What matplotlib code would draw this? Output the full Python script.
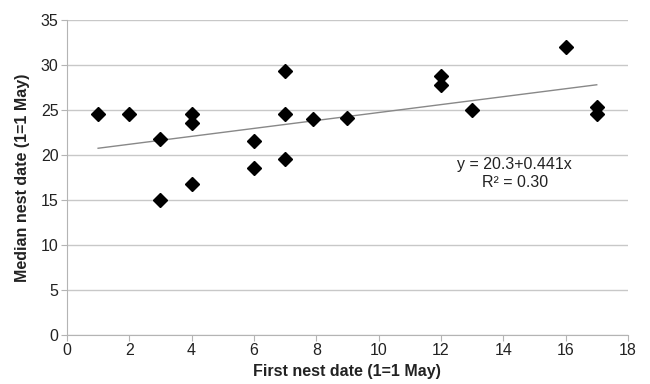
import matplotlib
matplotlib.use("Agg")
import matplotlib.pyplot as plt
import numpy as np

plt.rcParams['font.family'] = ['Liberation Sans', 'DejaVu Sans']

first_nest = [1, 2, 3, 3, 4, 4, 4, 6, 6, 7, 7, 7, 7.9, 9, 12, 12, 13, 16, 17, 17]
median_nest = [24.6, 24.6, 21.8, 15.0, 24.5, 23.5, 16.8, 21.5, 18.5, 29.3, 24.6, 19.5,
               24.0, 24.1, 28.8, 27.8, 25.0, 32.0, 25.3, 24.5]
intercept = 20.3
slope = 0.441

fig = plt.figure(figsize=(6.5, 3.84), dpi=100)
ax = fig.add_axes([0.103, 0.128, 0.863, 0.82])

ax.set_xlim(0, 18)
ax.set_ylim(0, 35)
ax.set_xticks(range(0, 19, 2))
ax.set_yticks(range(0, 36, 5))
ax.grid(axis='y', color='#c8c8c8', lw=1)
ax.set_axisbelow(True)
for s in ['top', 'right']:
    ax.spines[s].set_visible(False)
for s in ['left', 'bottom']:
    ax.spines[s].set_color('#b4b4b4')
ax.tick_params(colors='#b4b4b4', labelcolor='#222222', labelsize=11.5, length=4, pad=2)

fx = np.array([min(first_nest), max(first_nest)])
ax.plot(fx, intercept + slope * fx, color='#888888', lw=1)
ax.plot(first_nest, median_nest, 'D', color='black', ms=7.5, ls='none')

ax.text(14.37, 18.9, 'y = 20.3+0.441x', ha='center', va='center', fontsize=11.5, color='#222222')
ax.text(14.37, 16.9, 'R² = 0.30', ha='center', va='center', fontsize=11.5, color='#222222')

ax.set_xlabel('First nest date (1=1 May)', fontsize=11.5, fontweight='bold', color='#222222', labelpad=4)
ax.set_ylabel('Median nest date (1=1 May)', fontsize=11.5, fontweight='bold', color='#222222', labelpad=8)

fig.savefig('out.png', dpi=100)
